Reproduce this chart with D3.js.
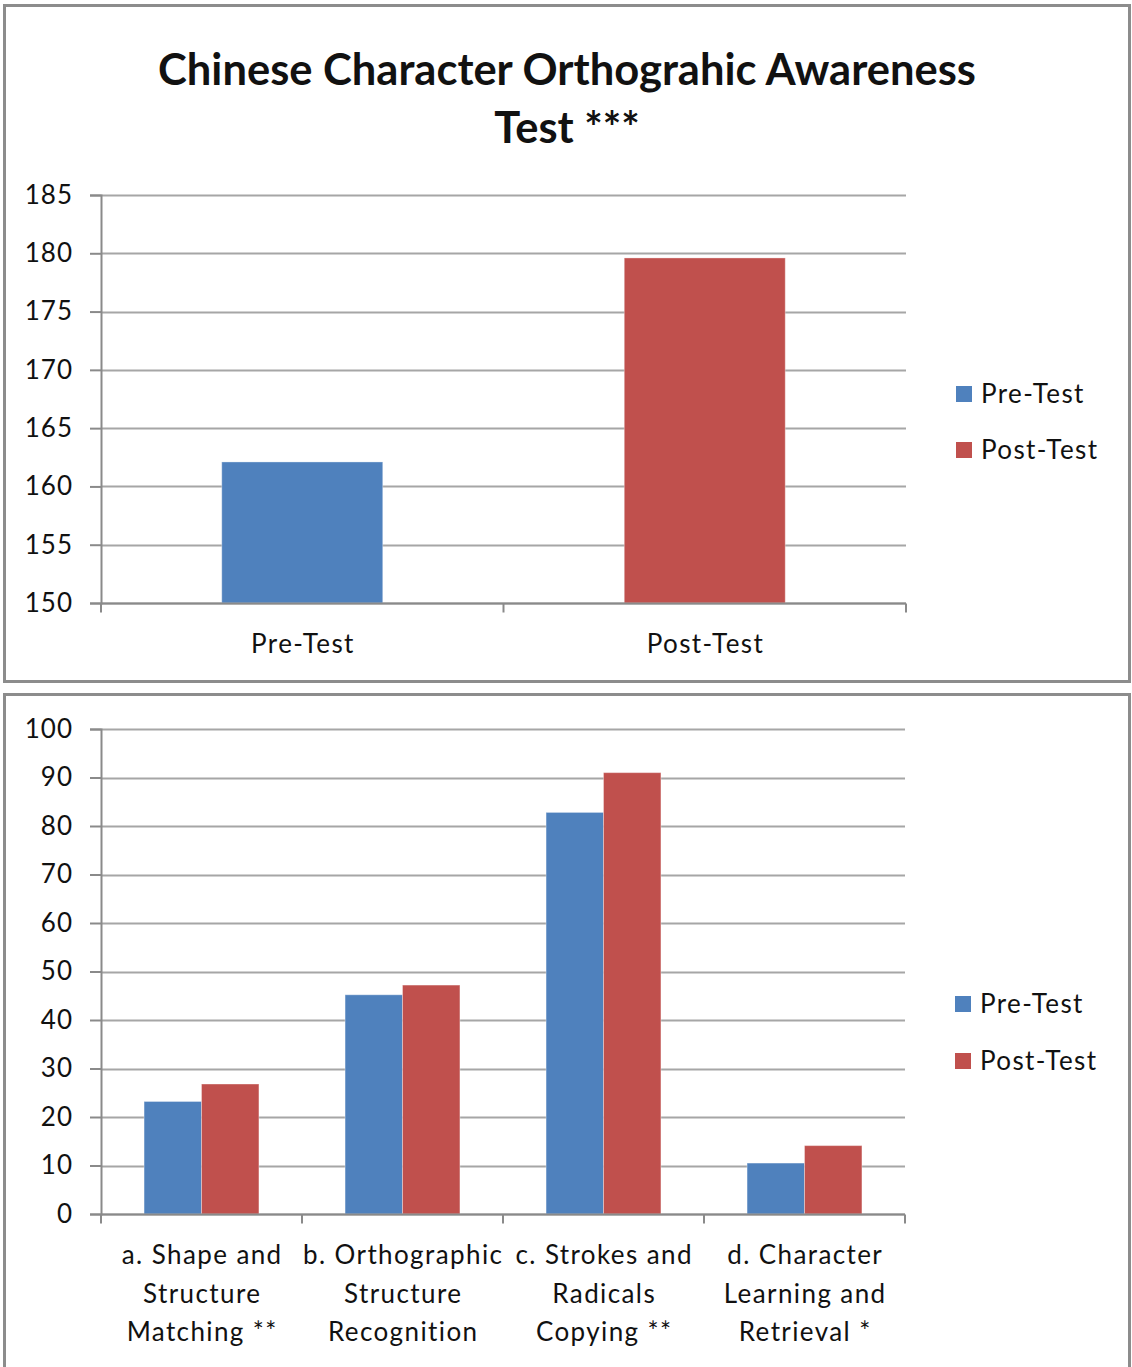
<!DOCTYPE html>
<html>
<head>
<meta charset="utf-8">
<script src="https://cdn.jsdelivr.net/npm/d3@7"></script>
<style>
  html, body { margin: 0; padding: 0; background: #fff; }
  svg { display: block; font-family: Lato, "Open Sans", sans-serif; }
</style>
</head>
<body>
<svg id="chart" width="1132" height="1367"></svg>
<script>
// ---- data: overall test score ----
const totalTitle = ["Chinese Character Orthograhic Awareness", "Test ***"];
const totalCategories = ["Pre-Test", "Post-Test"];
const totalValues = [162.1, 179.6];
const totalTicks = [150, 155, 160, 165, 170, 175, 180, 185];

// ---- data: sub-test scores ----
const subCategories = [
  "a. Shape and\nStructure\nMatching **",
  "b. Orthographic\nStructure\nRecognition",
  "c. Strokes and\nRadicals\nCopying **",
  "d. Character\nLearning and\nRetrieval *"
];
const subPre = [23.2, 45.2, 82.8, 10.5];
const subPost = [26.8, 47.2, 91.0, 14.1];
const subTicks = [0, 10, 20, 30, 40, 50, 60, 70, 80, 90, 100];

const seriesNames = ["Pre-Test", "Post-Test"];
const seriesColors = ["#4F81BD", "#C0504D"];

const svg = d3.select("#chart");
const gridColor = "#a6a6a6";
const axisColor = "#8a8a8a";
const fontSize = 26;
const labelSpacing = 1.4;

// panel frames
function frame(x, y, w, h) {
  svg.append("rect").attr("x", x).attr("y", y).attr("width", w).attr("height", h)
    .attr("fill", "#fff").attr("stroke", "#8c8c8c").attr("stroke-width", 3);
}
frame(4.5, 5.5, 1125, 676);
frame(4.5, 694.5, 1125, 720);

function valueAxis(g, y, ticks, left, right) {
  // gridlines
  g.append("g").selectAll("line").data(ticks).join("line")
    .attr("x1", left).attr("x2", right)
    .attr("y1", d => Math.round(y(d)) + 0.5).attr("y2", d => Math.round(y(d)) + 0.5)
    .attr("stroke", gridColor).attr("stroke-width", 2);
  const ax = g.append("g").attr("transform", `translate(${left},0)`)
    .call(d3.axisLeft(y).tickValues(ticks).tickSize(11).tickPadding(17).tickFormat(d3.format("d")));
  ax.select(".domain").attr("stroke", axisColor).attr("stroke-width", 2);
  ax.selectAll(".tick line").attr("stroke", axisColor).attr("stroke-width", 2);
  ax.selectAll(".tick text").attr("font-size", fontSize).attr("fill", "#111")
    .attr("font-family", "Lato, sans-serif").attr("letter-spacing", 1);
}

function categoryAxis(g, x, y0) {
  const [r0, r1] = x.range();
  g.append("line").attr("x1", r0).attr("x2", r1).attr("y1", y0).attr("y2", y0)
    .attr("stroke", axisColor).attr("stroke-width", 2);
  const bounds = x.domain().map(d => x(d)).concat([r1]);
  g.append("g").selectAll("line").data(bounds).join("line")
    .attr("x1", d => d).attr("x2", d => d).attr("y1", y0).attr("y2", y0 + 9)
    .attr("stroke", axisColor).attr("stroke-width", 2);
}

function legend(g, x, y, gap) {
  const items = g.append("g").selectAll("g").data(seriesNames).join("g")
    .attr("transform", (d, i) => `translate(${x},${y + i * gap})`);
  items.append("rect").attr("x", 0).attr("y", -16).attr("width", 16).attr("height", 16)
    .attr("fill", (d, i) => seriesColors[i]);
  items.append("text").attr("x", 25).attr("y", 0).attr("dy", 1)
    .attr("font-size", fontSize).attr("letter-spacing", labelSpacing)
    .attr("fill", "#111").text(d => d);
}

// ================= top chart =================
{
  const g = svg.append("g");
  const left = 101, right = 906, top = 195, bottom = 603;
  const y = d3.scaleLinear().domain([150, 185]).range([bottom, top]);
  const x = d3.scaleBand().domain(totalCategories).range([left, right]).padding(0);
  const barW = x.bandwidth() / 2.5;

  // title, scaled to its line width
  const title = g.append("g");
  totalTitle.forEach((line, i) => {
    title.append("text").attr("x", 567).attr("y", 85 + i * 58)
      .attr("text-anchor", "middle").attr("font-weight", "bold")
      .attr("font-size", 40).attr("fill", "#111").text(line);
  });
  const t0 = title.select("text").node();
  const scaleF = 818 / t0.getComputedTextLength();
  title.selectAll("text").attr("font-size", 40 * scaleF);

  valueAxis(g, y, totalTicks, left, right);

  g.append("g").selectAll("rect").data(totalCategories).join("rect")
    .attr("x", d => x(d) + (x.bandwidth() - barW) / 2)
    .attr("width", barW)
    .attr("y", (d, i) => y(totalValues[i]))
    .attr("height", (d, i) => y(150) - y(totalValues[i]))
    .attr("fill", (d, i) => seriesColors[i])
    .attr("stroke", "rgba(255,255,255,0.35)").attr("stroke-width", 1);

  categoryAxis(g, x, bottom + 0.5);

  g.append("g").selectAll("text").data(totalCategories).join("text")
    .attr("x", d => x(d) + x.bandwidth() / 2 + labelSpacing / 2).attr("y", 653)
    .attr("text-anchor", "middle").attr("font-size", fontSize)
    .attr("letter-spacing", labelSpacing).attr("fill", "#111")
    .text(d => d);

  legend(g, 956, 402, 56);
}

// ================= bottom chart =================
{
  const g = svg.append("g");
  const left = 101, right = 905, top = 729, bottom = 1214;
  const y = d3.scaleLinear().domain([0, 100]).range([bottom, top]);
  const x = d3.scaleBand().domain(subCategories).range([left, right]).padding(0);
  const barW = x.bandwidth() / 3.5;
  const xs = d3.scaleBand().domain(seriesNames)
    .range([(x.bandwidth() - 2 * barW) / 2, (x.bandwidth() + 2 * barW) / 2]).padding(0);

  valueAxis(g, y, subTicks, left, right);

  const series = [subPre, subPost];
  const groups = g.append("g").selectAll("g").data(subCategories).join("g")
    .attr("transform", d => `translate(${x(d)},0)`);
  groups.selectAll("rect").data((d, ci) => seriesNames.map((s, si) => ({ s, si, v: series[si][ci] })))
    .join("rect")
    .attr("x", d => xs(d.s)).attr("width", xs.bandwidth())
    .attr("y", d => y(d.v)).attr("height", d => y(0) - y(d.v))
    .attr("fill", d => seriesColors[d.si])
    .attr("stroke", "rgba(255,255,255,0.35)").attr("stroke-width", 1);

  categoryAxis(g, x, bottom + 0.5);

  const labels = g.append("g").selectAll("text").data(subCategories).join("text")
    .attr("text-anchor", "middle").attr("font-size", fontSize)
    .attr("letter-spacing", labelSpacing).attr("fill", "#111");
  labels.selectAll("tspan").data(d => d.split("\n").map(line => ({ line, d }))).join("tspan")
    .attr("x", t => x(t.d) + x.bandwidth() / 2 + labelSpacing / 2)
    .attr("y", (t, i) => 1264 + i * 38.5)
    .text(t => t.line);

  legend(g, 955, 1012, 57);
}
</script>
</body>
</html>
